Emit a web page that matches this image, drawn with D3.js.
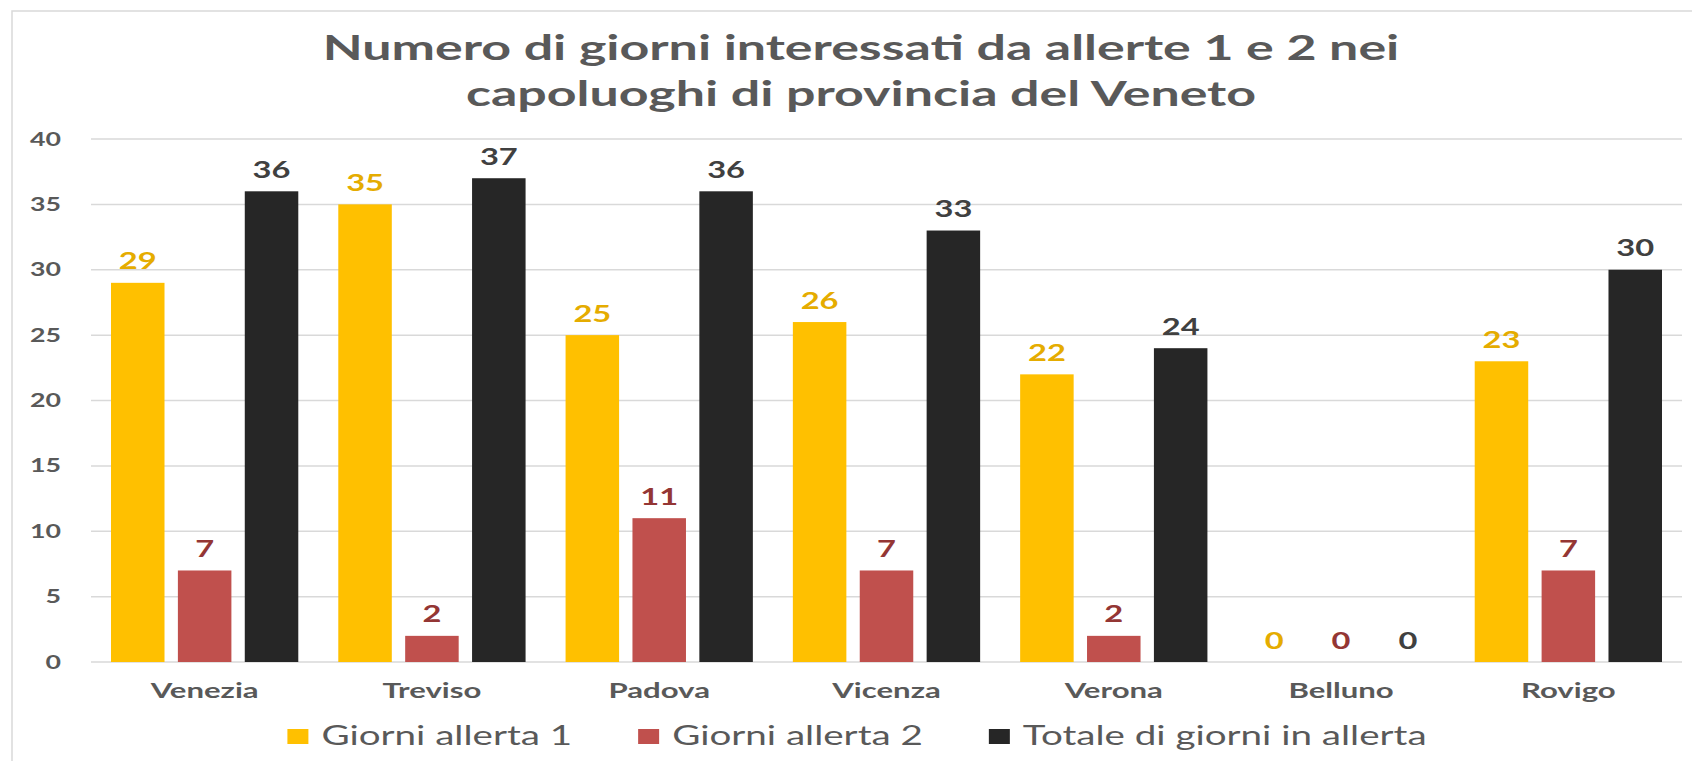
<!DOCTYPE html>
<html>
<head>
<meta charset="utf-8">
<script src="https://cdn.jsdelivr.net/npm/d3@7"></script>
<style>
  body { margin: 0; background: #fff; }
  svg { display: block; font-family: Lato, "Open Sans", sans-serif; }
</style>
</head>
<body>
<div id="chart"></div>
<script>
// dati
var categories = ["Venezia", "Treviso", "Padova", "Vicenza", "Verona", "Belluno", "Rovigo"];
var seriesNames = ["Giorni allerta 1", "Giorni allerta 2", "Totale di giorni in allerta"];
var allerta1 = [29, 35, 25, 26, 22, 0, 23];
var allerta2 = [7, 2, 11, 7, 2, 0, 7];
var totale = [36, 37, 36, 33, 24, 0, 30];
var yTicks = [0, 5, 10, 15, 20, 25, 30, 35, 40];
var titleLines = ["Numero di giorni interessati da allerte 1 e 2 nei", "capoluoghi di provincia del Veneto"];

var barColors = ["#FFC000", "#C0504D", "#262626"];
var labelColors = ["#E5AC00", "#943634", "#404040"];
var textGray = "#595959";

var width = 1692, height = 761;
var margin = { top: 139, right: 10, bottom: 99, left: 91 };

var svg = d3.select("#chart")
  .append("svg")
  .attr("width", width)
  .attr("height", height);

svg.append("rect")
  .attr("width", width)
  .attr("height", height)
  .attr("fill", "#fff");

// cornice del grafico
svg.append("rect")
  .attr("x", 12)
  .attr("y", 11)
  .attr("width", 1740)
  .attr("height", 800)
  .attr("fill", "none")
  .attr("stroke", "#D9D9D9")
  .attr("stroke-width", 1.5);

// il grafico originale è stirato in orizzontale: misuro il titolo e ricavo il fattore
var probe = svg.append("text")
  .attr("font-size", 35)
  .attr("font-weight", 700)
  .text(titleLines[0]);
var sx = 1077 / probe.node().getComputedTextLength();
probe.remove();

function stretched(sel, x, y) {
  return sel.attr("transform", "translate(" + x + "," + y + ") scale(" + sx + ",1)");
}

// titolo
titleLines.forEach(function (line, i) {
  svg.append("text")
    .call(stretched, 861, 60 + i * 46)
    .attr("text-anchor", "middle")
    .attr("font-size", 35)
    .attr("font-weight", 700)
    .attr("fill", textGray)
    .text(line);
});

var x0 = d3.scaleBand()
  .domain(categories)
  .range([margin.left, width - margin.right])
  .paddingInner(0.176)
  .paddingOuter(0.088);

var x1 = d3.scaleBand()
  .domain(d3.range(seriesNames.length))
  .range([0, x0.bandwidth()])
  .paddingInner(0.2);

var y = d3.scaleLinear()
  .domain([0, 40])
  .range([height - margin.bottom, margin.top]);

// griglia
svg.append("g")
  .selectAll("line")
  .data(yTicks)
  .enter()
  .append("line")
  .attr("x1", margin.left)
  .attr("x2", width - margin.right)
  .attr("y1", function (d) { return y(d); })
  .attr("y2", function (d) { return y(d); })
  .attr("stroke", "#D9D9D9")
  .attr("stroke-width", 1.5);

// etichette asse y
svg.append("g")
  .selectAll("text")
  .data(yTicks)
  .enter()
  .append("text")
  .each(function (d) {
    stretched(d3.select(this), 61, y(d) + 6.5);
  })
  .attr("text-anchor", "end")
  .attr("font-size", 18)
  .attr("font-weight", 700)
  .attr("fill", textGray)
  .text(function (d) { return d; });

var rows = categories.map(function (c, i) {
  return { cat: c, values: [allerta1[i], allerta2[i], totale[i]] };
});

var group = svg.selectAll(".group")
  .data(rows)
  .enter()
  .append("g")
  .attr("class", "group")
  .attr("transform", function (d) { return "translate(" + x0(d.cat) + ",0)"; });

group.selectAll("rect")
  .data(function (d) { return d.values; })
  .enter()
  .append("rect")
  .attr("x", function (d, i) { return x1(i); })
  .attr("y", function (d) { return y(d); })
  .attr("width", x1.bandwidth())
  .attr("height", function (d) { return y(0) - y(d); })
  .attr("fill", function (d, i) { return barColors[i]; });

// etichette dati
group.selectAll("text.value")
  .data(function (d) { return d.values; })
  .enter()
  .append("text")
  .attr("class", "value")
  .each(function (d, i) {
    stretched(d3.select(this), x1(i) + x1.bandwidth() / 2, y(d) - 13.5);
  })
  .attr("text-anchor", "middle")
  .attr("font-size", 22)
  .attr("font-weight", 700)
  .attr("fill", function (d, i) { return labelColors[i]; })
  .text(function (d) { return d; });

// categorie
group.append("text")
  .call(stretched, x0.bandwidth() / 2, 698)
  .attr("text-anchor", "middle")
  .attr("font-size", 21)
  .attr("font-weight", 700)
  .attr("fill", textGray)
  .text(function (d) { return d.cat; });

// legenda
var legend = svg.append("g");
var lx = 0;
seriesNames.forEach(function (name, i) {
  var item = legend.append("g").attr("transform", "translate(" + lx + ",0)");
  item.append("rect")
    .attr("x", 0)
    .attr("y", 729)
    .attr("width", 21)
    .attr("height", 15)
    .attr("fill", barColors[i]);
  var t = item.append("text")
    .call(stretched, 34, 745)
    .attr("font-size", 26)
    .attr("fill", textGray)
    .text(name);
  lx += 34 + t.node().getComputedTextLength() * sx + 66;
});
var legendWidth = lx - 66;
legend.attr("transform", "translate(" + (857 - legendWidth / 2) + ",0)");
</script>
</body>
</html>
